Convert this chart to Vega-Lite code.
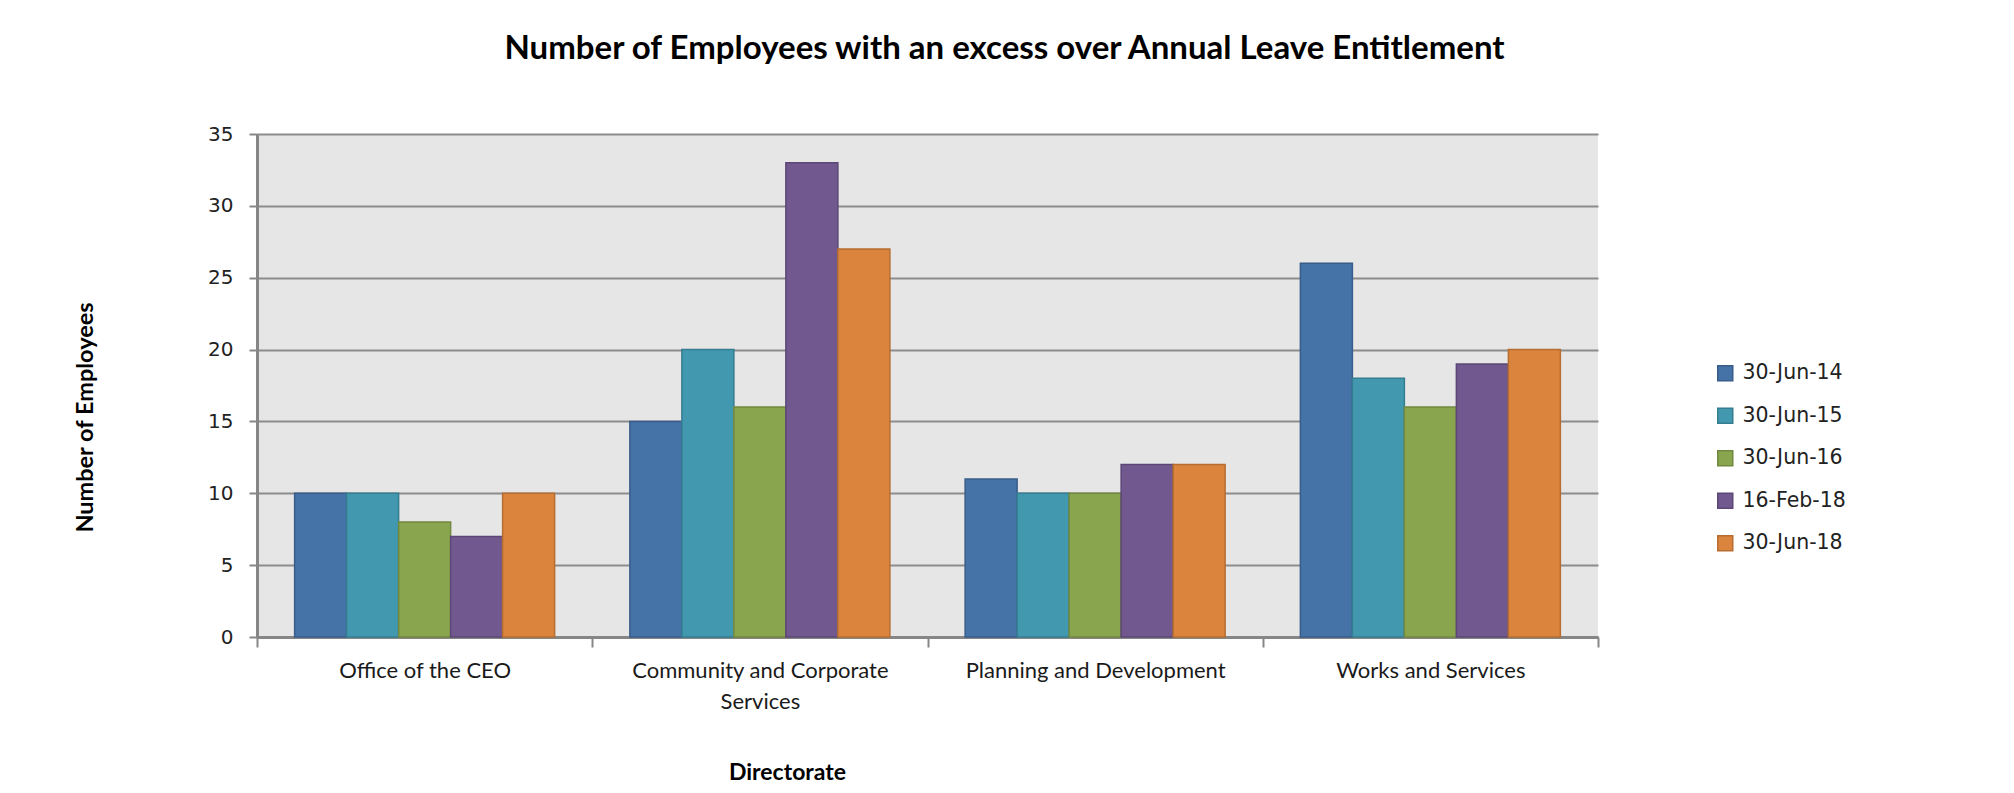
{
  "$schema": "https://vega.github.io/schema/vega-lite/v6.json",
  "autosize": {"type": "none"},
  "width": 1341,
  "height": 503,
  "padding": {"left": 257, "top": 134, "right": 416, "bottom": 156},
  "background": "white",
  "title": {
    "text": "Number of Employees with an excess over Annual Leave Entitlement",
    "font": "Lato",
    "fontWeight": "bold",
    "fontSize": 33,
    "color": "#000000",
    "anchor": "middle",
    "frame": "group",
    "dx": 77,
    "offset": 58
  },
  "data": {
    "values": [
      {"directorate": "Office of the CEO", "date": "30-Jun-14", "employees": 10},
      {"directorate": "Office of the CEO", "date": "30-Jun-15", "employees": 10},
      {"directorate": "Office of the CEO", "date": "30-Jun-16", "employees": 8},
      {"directorate": "Office of the CEO", "date": "16-Feb-18", "employees": 7},
      {"directorate": "Office of the CEO", "date": "30-Jun-18", "employees": 10},
      {"directorate": "Community and Corporate Services", "date": "30-Jun-14", "employees": 15},
      {"directorate": "Community and Corporate Services", "date": "30-Jun-15", "employees": 20},
      {"directorate": "Community and Corporate Services", "date": "30-Jun-16", "employees": 16},
      {"directorate": "Community and Corporate Services", "date": "16-Feb-18", "employees": 33},
      {"directorate": "Community and Corporate Services", "date": "30-Jun-18", "employees": 27},
      {"directorate": "Planning and Development", "date": "30-Jun-14", "employees": 11},
      {"directorate": "Planning and Development", "date": "30-Jun-15", "employees": 10},
      {"directorate": "Planning and Development", "date": "30-Jun-16", "employees": 10},
      {"directorate": "Planning and Development", "date": "16-Feb-18", "employees": 12},
      {"directorate": "Planning and Development", "date": "30-Jun-18", "employees": 12},
      {"directorate": "Works and Services", "date": "30-Jun-14", "employees": 26},
      {"directorate": "Works and Services", "date": "30-Jun-15", "employees": 18},
      {"directorate": "Works and Services", "date": "30-Jun-16", "employees": 16},
      {"directorate": "Works and Services", "date": "16-Feb-18", "employees": 19},
      {"directorate": "Works and Services", "date": "30-Jun-18", "employees": 20}
    ]
  },
  "mark": {"type": "bar", "strokeWidth": 1.5},
  "encoding": {
    "x": {
      "field": "directorate",
      "type": "nominal",
      "sort": null,
      "scale": {"paddingInner": 0, "paddingOuter": 0},
      "axis": {
        "title": "Directorate",
        "labelAngle": 0,
        "labelFont": "Lato",
        "labelFontSize": 22,
        "labelColor": "#1a1a1a",
        "labelPadding": 13,
        "labelLineHeight": 31,
        "labelLimit": 0,
        "labelExpr": "datum.label == 'Community and Corporate Services' ? ['Community and Corporate', 'Services'] : datum.label",
        "tickBand": "extent",
        "tickSize": 10,
        "tickColor": "#868686",
        "tickWidth": 2,
        "domainColor": "#868686",
        "domainWidth": 3,
        "grid": false,
        "titleFont": "Lato",
        "titleFontWeight": "bold",
        "titleFontSize": 23,
        "titleColor": "#000000",
        "titleX": 530,
        "titleY": 135,
        "titleAlign": "center",
        "titleBaseline": "middle"
      }
    },
    "xOffset": {
      "field": "date",
      "type": "nominal",
      "scale": {"domain": ["30-Jun-14", "30-Jun-15", "30-Jun-16", "16-Feb-18", "30-Jun-18"], "paddingInner": 0, "paddingOuter": 0.7236}
    },
    "y": {
      "field": "employees",
      "type": "quantitative",
      "scale": {"domain": [0, 35], "nice": false},
      "axis": {
        "title": "Number of Employees",
        "values": [0, 5, 10, 15, 20, 25, 30, 35],
        "labelFont": "DejaVu Sans",
        "labelFontSize": 20,
        "labelColor": "#222222",
        "labelPadding": 16,
        "tickSize": 8,
        "tickColor": "#868686",
        "tickWidth": 2,
        "domainColor": "#868686",
        "domainWidth": 3,
        "grid": true,
        "gridColor": "#8C8C8C",
        "gridWidth": 2,
        "titleFont": "Lato",
        "titleFontWeight": "bold",
        "titleFontSize": 23.5,
        "titleColor": "#000000",
        "titleX": -172,
        "titleY": 283,
        "titleAlign": "center",
        "titleBaseline": "middle",
        "titleAngle": -90
      }
    },
    "fill": {
      "field": "date",
      "type": "nominal",
      "scale": {
        "domain": ["30-Jun-14", "30-Jun-15", "30-Jun-16", "16-Feb-18", "30-Jun-18"],
        "range": ["#4572A7", "#4198AF", "#89A54E", "#71588F", "#DB843D"]
      },
      "legend": {
        "title": null,
        "orient": "none",
        "legendX": 1458,
        "legendY": 229,
        "padding": 0,
        "symbolType": "square",
        "symbolSize": 225,
        "symbolStrokeWidth": 1.5,
        "labelFont": "DejaVu Sans",
        "labelFontSize": 20.5,
        "labelColor": "#222222",
        "labelOffset": 7,
        "rowPadding": 20.5
      }
    },
    "stroke": {
      "field": "date",
      "type": "nominal",
      "scale": {
        "domain": ["30-Jun-14", "30-Jun-15", "30-Jun-16", "16-Feb-18", "30-Jun-18"],
        "range": ["#385D8A", "#357D91", "#71893F", "#5C4776", "#B66D31"]
      },
      "legend": {
        "title": null,
        "orient": "none",
        "legendX": 1458,
        "legendY": 229,
        "padding": 0,
        "symbolType": "square",
        "symbolSize": 225,
        "symbolStrokeWidth": 1.5,
        "labelFont": "DejaVu Sans",
        "labelFontSize": 20.5,
        "labelColor": "#222222",
        "labelOffset": 7,
        "rowPadding": 20.5
      }
    }
  },
  "config": {
    "view": {"fill": "#E6E6E6", "stroke": null}
  }
}
